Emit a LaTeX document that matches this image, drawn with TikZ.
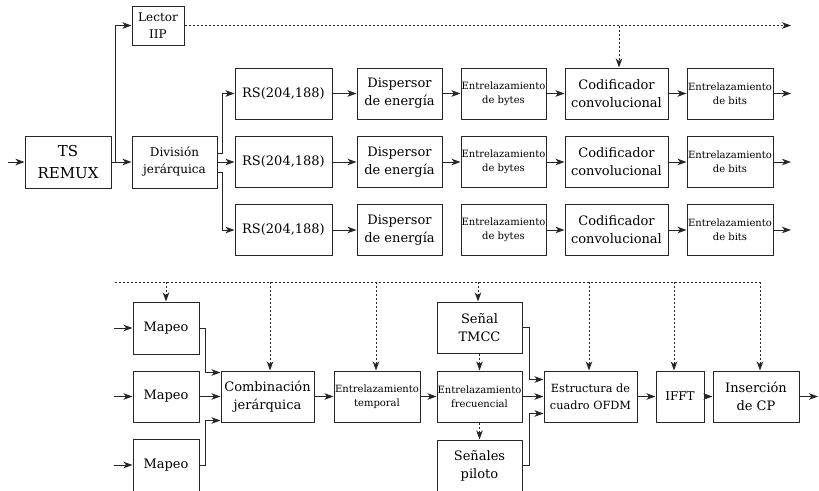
\documentclass[tikz,border=0pt]{standalone}
\usepackage{fontspec}
\setmainfont{DejaVu Serif}
\usetikzlibrary{arrows.meta}
\tikzset{
  box/.style={draw=black!85, line width=1pt, inner sep=0pt, align=center, rectangle, font=\fontsize{13}{18}\selectfont},
  small/.style={font=\fontsize{10}{14}\selectfont},
  mid/.style={font=\fontsize{12}{17}\selectfont},
  arr/.style={-{Stealth[length=9pt,width=6.5pt,inset=2.5pt]}, line width=1pt, draw=black!85},
  dotl/.style={line width=1pt, draw=black!85, dash pattern=on 2pt off 2pt},
  darr/.style={dotl, -{Stealth[length=9pt,width=6.5pt,inset=2.5pt]}}
}
\begin{document}
\begin{tikzpicture}[x=1pt,y=-1pt]
\useasboundingbox (0,0) rectangle (819,490);
% top section
\node[box, font=\fontsize{15}{22}\selectfont, minimum width=86pt, minimum height=52pt] (ts) at (68,162) {TS\\REMUX};
\node[box, mid, minimum width=52pt, minimum height=39pt] (lector) at (158,25.5) {Lector\\IIP};
\node[box, mid, minimum width=85pt, minimum height=52pt] (div) at (174.5,162) {División\\jerárquica};
\foreach \r/\y in {1/93.5,2/162,3/230}{
  \node[box, minimum width=97pt, minimum height=51pt] (rs\r) at (283.5,\y) {RS(204,188)};
  \node[box, minimum width=85pt, minimum height=51pt] (disp\r) at (399.5,\y) {Dispersor\\de energía};
  \node[box, small, minimum width=85pt, minimum height=51pt] (byt\r) at (503.5,\y) {Entrelazamiento\\de bytes};
  \node[box, minimum width=103pt, minimum height=51pt] (cod\r) at (616.5,\y) {Codificador\\convolucional};
  \node[box, small, minimum width=86pt, minimum height=51pt] (bits\r) at (730,\y) {Entrelazamiento\\de bits};
  \coordinate (out\r) at (791,\y);
}
\coordinate (in0) at (8,162);
\draw[arr] (in0) -- (ts.west);
\draw[arr] (ts.east) -- ++(4,0) |- (lector.west);
\draw[arr] (ts.east) -- (div.west);
\draw[arr] ([yshift=9pt]div.east) -- ++(5,0) |- (rs1.west);
\draw[arr] (div.east) -- (rs2.west);
\draw[arr] ([yshift=-10pt]div.east) -- ++(5,0) |- (rs3.west);
\foreach \r in {1,2,3}{
  \draw[arr] (rs\r) -- (disp\r);
  \draw[arr] (byt\r) -- (cod\r);
  \draw[arr] (cod\r) -- (bits\r);
  \draw[arr] (bits\r.east) -- (out\r);
}
\draw[arr] (disp1) -- (byt1);
\draw[arr] (disp2) -- (byt2);
\coordinate (topr) at (791,25.5);
\coordinate (topj) at (619,25.5);
\draw[darr] (lector.east) -- (topr);
\draw[darr] (topj) -- (topj |- cod1.north);
% bottom section
\coordinate (dl) at (115,282);
\coordinate (dr) at (760,282);
\draw[dotl] (dl) -- (dr);
\node[box, minimum width=66pt, minimum height=52pt] (m1) at (166,328) {Mapeo};
\node[box, minimum width=66pt, minimum height=51pt] (m2) at (166,396.5) {Mapeo};
\node[box, minimum width=66pt, minimum height=52pt] (m3) at (166,465) {Mapeo};
\node[box, minimum width=93pt, minimum height=51pt] (comb) at (267.5,396.5) {Combinación\\jerárquica};
\node[box, small, minimum width=86pt, minimum height=51pt] (temp) at (377,396.5) {Entrelazamiento\\temporal};
\node[box, small, minimum width=85pt, minimum height=51pt] (frec) at (479.5,396.5) {Entrelazamiento\\frecuencial};
\node[box, minimum width=85pt, minimum height=51pt] (tmcc) at (479.5,327.5) {Señal\\TMCC};
\node[box, minimum width=85pt, minimum height=51pt] (pil) at (479.5,465.5) {Señales\\piloto};
\node[box, font=\fontsize{11.3}{17}\selectfont, minimum width=93pt, minimum height=51pt] (estr) at (590.5,396.5) {Estructura de\\cuadro OFDM};
\node[box, mid, minimum width=48pt, minimum height=51pt] (ifft) at (680,396.5) {IFFT};
\node[box, minimum width=86pt, minimum height=51pt] (ins) at (756,396.5) {Inserción\\de CP};
\coordinate (mi1) at (114,328);
\coordinate (mi2) at (114,396.5);
\coordinate (mi3) at (114,465);
\coordinate (bout) at (818,396.5);
\foreach \i in {1,2,3}{ \draw[arr] (mi\i) -- (m\i.west); }
\draw[arr] (m1.east) -- ++(6,0) |- ([yshift=24pt]comb.west);
\draw[arr] (m2.east) -- (comb.west);
\draw[arr] (m3.east) -- ++(6,0) |- ([yshift=-24pt]comb.west);
\draw[arr] (comb) -- (temp);
\draw[arr] (temp) -- (frec);
\draw[arr] (tmcc.east) -- ++(7,0) |- ([yshift=17pt]estr.west);
\draw[arr] (frec) -- (estr);
\draw[arr] (pil.east) -- ++(7,0) |- ([yshift=-17pt]estr.west);
\draw[arr] (estr) -- (ifft);
\draw[arr] (ifft) -- (ins);
\draw[arr] (ins.east) -- (bout);
\draw[darr] (tmcc.south) -- (frec.north);
\draw[darr] (frec.south) -- (pil.north);
\foreach \x/\n in {166/m1,270/comb,376/temp,478/tmcc,589/estr,674/ifft,760/ins}{
  \draw[darr] (\x,282) -- (\x,0 |- \n.north);
}
\end{tikzpicture}
\end{document}
